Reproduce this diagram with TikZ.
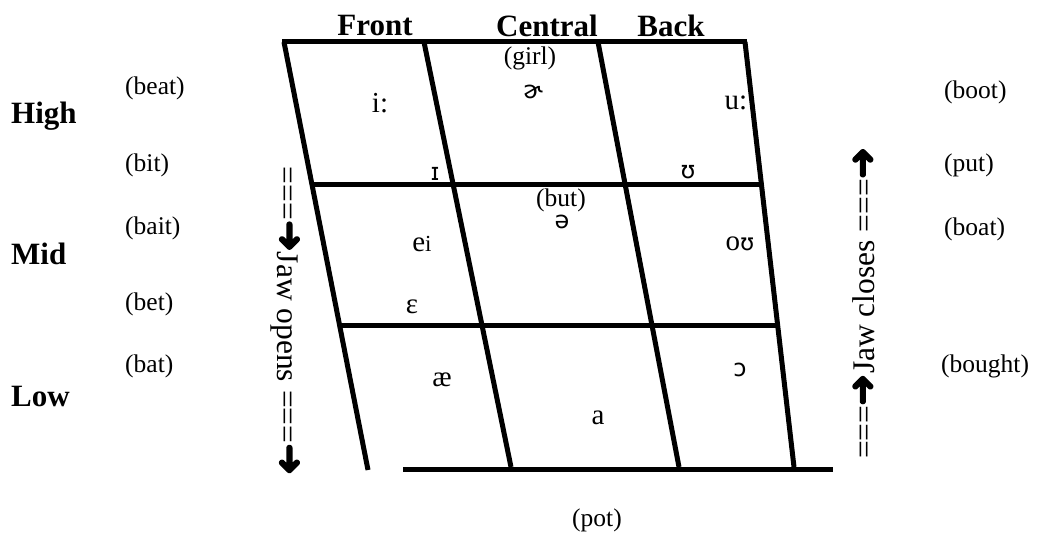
\documentclass[tikz,border=0pt]{standalone}
\usepackage{fontspec}
\setmainfont{Liberation Serif}
\newfontfamily\ipa{DejaVu Sans}
\newfontfamily\heavyarrows[FakeBold=4]{DejaVu Sans}
\newcommand{\jawarrow}{{\heavyarrows\fontsize{38}{38}\selectfont ➜}}
\begin{document}
\begin{tikzpicture}[x=1pt,y=-1pt,
  grid/.style={line width=5pt},
  head/.style={font=\fontsize{31}{31}\selectfont\bfseries, inner sep=0pt},
  word/.style={font=\fontsize{25.5}{25.5}\selectfont, inner sep=0pt},
  vowel/.style={font=\fontsize{29}{29}\selectfont, inner sep=0pt},
  sym/.style={font=\ipa\fontsize{24}{24}\selectfont, inner sep=0pt},
  jaw/.style={font=\fontsize{31.5}{31.5}\selectfont, inner sep=0pt}]
\useasboundingbox (0,0) rectangle (1037,535);

% corner points of the vowel chart
\coordinate (t0) at (282,42);  \coordinate (t3) at (747,42);
\coordinate (a0) at (284,42);  \coordinate (b0) at (368,470);
\coordinate (a1) at (424,42);  \coordinate (b1) at (511,467);
\coordinate (a2) at (598,42);  \coordinate (b2) at (679,467);
\coordinate (a3) at (745,42);  \coordinate (b3) at (794,467);
\coordinate (h1l) at (311,184); \coordinate (h1r) at (762,184);
\coordinate (h2l) at (339,325); \coordinate (h2r) at (778,325);
\coordinate (f0) at (403,469); \coordinate (f1) at (833,469);

\draw[grid] (t0) -- (t3);
\draw[grid] (a0) -- (b0);
\draw[grid] (a1) -- (b1);
\draw[grid] (a2) -- (b2);
\draw[grid] (a3) -- (b3);
\draw[grid] (h1l) -- (h1r);
\draw[grid] (h2l) -- (h2r);
\draw[grid] (f0) -- (f1);

% column and row headings
\node[head] (front) at (375,26) {Front};
\node[head] (central) at (547,26) {Central};
\node[head] (back) at (671,26) {Back};
\node[head,anchor=west] (high) at (11,116) {High};
\node[head,anchor=west] (mid) at (11,254) {Mid};
\node[head,anchor=west] (low) at (11,396) {Low};

% example words, left side
\node[word,anchor=west] (beat) at (125,88) {(beat)};
\node[word,anchor=west] (bit) at (125,165) {(bit)};
\node[word,anchor=west] (bait) at (125,228) {(bait)};
\node[word,anchor=west] (bet) at (125,304) {(bet)};
\node[word,anchor=west] (bat) at (125,366) {(bat)};

% example words, right side
\node[word,anchor=west] (boot) at (944,92) {(boot)};
\node[word,anchor=west] (put) at (944,165) {(put)};
\node[word,anchor=west] (boat) at (944,229) {(boat)};
\node[word,anchor=west] (bought) at (941,366) {(bought)};

% example words inside and below the chart
\node[word] (girl) at (530,58) {(girl)};
\node[word] (but) at (561,200) {(but)};
\node[word] (pot) at (597,520) {(pot)};

% vowel symbols
\node[vowel] (ii) at (380,103) {i:};
\node[sym] (er) at (533,92) {ɚ};
\node[vowel] (uu) at (736,103) {u:};
\node[sym] (ih) at (435,174) {ɪ};
\node[sym] (uh) at (688,172) {ʊ};
\node[sym] (schwa) at (562,222) {ə};
\node[vowel] (ei) at (422,244) {e{\fontsize{23}{23}\selectfont i}};
\node[vowel] (ou) at (740,244) {o{\ipa\fontsize{23}{23}\selectfont ʊ}};
\node[vowel] (eh) at (412,307) {ɛ};
\node[vowel] (ae) at (442,380) {æ};
\node[vowel] (aa) at (598,418) {a};
\node[sym] (oh) at (740,370) {ɔ};

% jaw movement labels
\node[jaw,rotate=-90] (opens) at (285,321) {===\jawarrow Jaw opens ===\jawarrow};
\node[jaw,rotate=90] (closes) at (864,303) {===\jawarrow Jaw closes ===\jawarrow};
\end{tikzpicture}
\end{document}
